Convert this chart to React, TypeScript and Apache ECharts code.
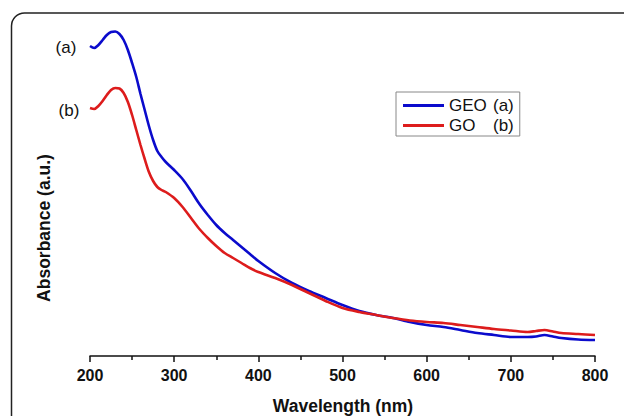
import React, { useEffect, useRef } from "react";
import * as echarts from "echarts";

const wavelengths = [
  200, 205, 210, 215, 220, 225, 230, 235, 240, 245, 250, 255, 260, 265, 270, 275, 280, 285, 290, 300,
  310, 320, 330, 340, 350, 360, 370, 380, 390, 400, 420, 440, 460, 480, 500, 520, 540, 560, 580, 600,
  620, 640, 660, 680, 700, 720, 730, 740, 750, 760, 780, 800,
];

const geoA = [
  3.10, 3.08, 3.11, 3.16, 3.21, 3.24, 3.245, 3.22, 3.16, 3.06, 2.93, 2.79, 2.62, 2.46, 2.30, 2.16, 2.05, 1.99, 1.94, 1.86,
  1.77, 1.65, 1.52, 1.41, 1.31, 1.23, 1.16, 1.09, 1.02, 0.95, 0.83, 0.73, 0.65, 0.58, 0.51, 0.45, 0.41, 0.38, 0.34, 0.31,
  0.29, 0.26, 0.23, 0.21, 0.19, 0.19, 0.195, 0.21, 0.195, 0.18, 0.165, 0.16,
];

const goB = [
  2.48, 2.47, 2.50, 2.55, 2.61, 2.66, 2.68, 2.675, 2.63, 2.54, 2.41, 2.26, 2.11, 1.97, 1.84, 1.75, 1.69, 1.66, 1.64, 1.58,
  1.49, 1.38, 1.27, 1.18, 1.10, 1.03, 0.98, 0.93, 0.88, 0.84, 0.78, 0.71, 0.63, 0.55, 0.48, 0.44, 0.41, 0.38, 0.355, 0.34,
  0.33, 0.31, 0.29, 0.27, 0.255, 0.24, 0.25, 0.26, 0.245, 0.23, 0.22, 0.21,
];

const seriesNames = ["GEO (a)", "GO (b)"];
const curveLabels = ["(a)", "(b)"];
const xTitle = "Wavelength (nm)";
const yTitle = "Absorbance (a.u.)";

const FONT = "'Liberation Sans', Arial, sans-serif";

export default function App() {
  const ref = useRef<HTMLDivElement>(null);
  useEffect(() => {
    if (!ref.current) return;
    const chart = echarts.init(ref.current, null, { renderer: "svg" });
    const pair = (ys: number[]) => wavelengths.map((w, i) => [w, ys[i]]);
    chart.setOption({
      animation: false,
      backgroundColor: "#ffffff",
      grid: { left: 90, right: 29, top: 26, bottom: 60 },
      xAxis: {
        type: "value",
        min: 200,
        max: 800,
        interval: 100,
        axisLine: { show: true, lineStyle: { color: "#111", width: 1.5 } },
        axisTick: { show: true, length: 6, lineStyle: { color: "#111", width: 1.5 } },
        minorTick: { show: true, splitNumber: 2, length: 4, lineStyle: { color: "#111", width: 1.5 } },
        splitLine: { show: false },
        axisLabel: {
          margin: 11,
          color: "#111",
          fontFamily: FONT,
          fontWeight: "bold",
          fontSize: 16,
        },
      },
      yAxis: {
        type: "value",
        min: 0,
        max: 3.3,
        show: false,
      },
      legend: {
        left: 396,
        top: 92,
        orient: "vertical",
        borderColor: "#888",
        borderWidth: 1,
        padding: [5, 6, 2, 7],
        itemWidth: 41,
        itemHeight: 3,
        itemGap: 3,
        icon: "rect",
        selectedMode: false,
        data: seriesNames,
        formatter: (name: string) =>
          name === seriesNames[0] ? "{n|GEO}{p|(a)}" : "{n|GO}{p|(b)}",
        textStyle: {
          color: "#111",
          fontFamily: FONT,
          fontSize: 17,
          rich: {
            n: { width: 44, fontSize: 17, fontFamily: FONT, color: "#111", lineHeight: 18 },
            p: { fontSize: 17, fontFamily: FONT, color: "#111", lineHeight: 18 },
          },
        },
      },
      series: [
        {
          name: seriesNames[0],
          type: "line",
          data: pair(geoA),
          showSymbol: false,
          symbol: "none",
          smooth: 0.3,
          color: "#0b0bcc",
          lineStyle: { color: "#0b0bcc", width: 2.6 },
        },
        {
          name: seriesNames[1],
          type: "line",
          data: pair(goB),
          showSymbol: false,
          symbol: "none",
          smooth: 0.3,
          color: "#dd1c1c",
          lineStyle: { color: "#dd1c1c", width: 2.6 },
        },
      ],
      graphic: [
        {
          type: "rect",
          z: -1,
          silent: true,
          shape: { x: 11.5, y: 13, width: 720, height: 600, r: 13 },
          style: { fill: "none", stroke: "#222", lineWidth: 1.5 },
        },
        {
          type: "text",
          x: 343,
          y: 406,
          style: {
            text: xTitle,
            fill: "#111",
            font: `bold 17.5px ${FONT}`,
            textAlign: "center",
            textVerticalAlign: "middle",
          },
        },
        {
          type: "text",
          x: 44,
          y: 228,
          rotation: Math.PI / 2,
          style: {
            text: yTitle,
            fill: "#111",
            font: `bold 17.5px ${FONT}`,
            textAlign: "center",
            textVerticalAlign: "middle",
          },
        },
        {
          type: "text",
          x: 66,
          y: 47,
          style: {
            text: curveLabels[0],
            fill: "#111",
            font: `17px ${FONT}`,
            textAlign: "center",
            textVerticalAlign: "middle",
          },
        },
        {
          type: "text",
          x: 69,
          y: 110,
          style: {
            text: curveLabels[1],
            fill: "#111",
            font: `17px ${FONT}`,
            textAlign: "center",
            textVerticalAlign: "middle",
          },
        },
      ],
    });
    return () => chart.dispose();
  }, []);
  return (
    <div
      ref={ref}
      style={{ position: "fixed", left: 0, top: 0, width: 624, height: 416 }}
    />
  );
}
